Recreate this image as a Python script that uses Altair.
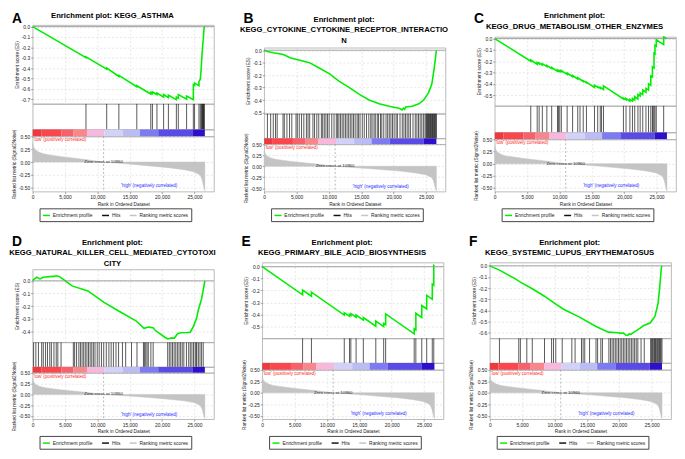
import altair as alt
import pandas as pd

FONT = "Liberation Sans"
W = 184
X_MAX = 28000
X_TICKS = [0, 5000, 10000, 15000, 20000, 25000]
METRIC_TICKS = [0.5, 0.25, 0.0, -0.25, -0.5]
METRIC_DOMAIN = [-0.575, 0.5]
ZERO_CROSS = 10960
SERIES = ["Enrichment profile", "Hits", "Ranking metric scores"]
SERIES_COLORS = ["#00ee00", "#111111", "#c4c4c4"]
LOW_LABEL = "'low' (positively correlated)"
HIGH_LABEL = "'high' (negatively correlated)"

# ranked list metric (shared by all panels)
metric_rank = [0, 100, 250, 500, 1000, 1700, 2700, 4200, 6150, 8100, 10960, 13500,
               16000, 18500, 21000, 23400, 24900, 25900, 26200, 26400, 26550, 26600]
metric_val = [0.36, 0.30, 0.27, 0.23, 0.19, 0.16, 0.14, 0.11, 0.08, 0.05, 0.0, -0.025,
              -0.05, -0.08, -0.11, -0.15, -0.19, -0.255, -0.35, -0.475, -0.54, -0.56]

# heat bar of the ranked list
bar_start = [0, 1330, 4440, 6320, 8390, 11100, 13900, 16580, 19400, 24670]
bar_end = [1330, 4440, 6320, 8390, 11100, 13900, 16580, 19400, 24670, 26600]
bar_color = ["#ec3a3e", "#fb474c", "#f8616c", "#f8878c", "#f8b8de",
             "#d2d2f8", "#bcbcf5", "#7d7bf1", "#5a4be7", "#2c10cc"]

# ---------- A ----------
A_title = "Enrichment plot: KEGG_ASTHMA"
A_es_rank = [0, 8240, 8240, 11440, 11440, 13320, 13320, 16090, 16090, 18250, 18250, 18500, 18500,
             19200, 19200, 20230, 20230, 20970, 20970, 22200, 22200, 22500, 22500, 23780, 23780,
             24820, 24820, 25010, 25010, 25690, 25690, 25890, 26040, 26130, 26230, 26380, 26480, 26600]
A_es_val = [0.0, -0.300, -0.292, -0.410, -0.400, -0.480, -0.470, -0.580, -0.570, -0.650, -0.635,
            -0.645, -0.630, -0.655, -0.640, -0.680, -0.655, -0.685, -0.660, -0.705, -0.680, -0.690,
            -0.655, -0.700, -0.670, -0.705, -0.560, -0.567, -0.545, -0.570, -0.530, -0.510, -0.400,
            -0.300, -0.210, -0.100, -0.010, 0.0]
A_hits = [8240, 11440, 13320, 16090, 18250, 18500, 19200, 20230, 20970, 22200, 22500, 23780,
          24820, 25010, 25690, 25890, 26040, 26130, 26230, 26300, 26380, 26450, 26520]
A_domain = [-0.745, 0.015]
A_ticks = [0.0, -0.1, -0.2, -0.3, -0.4, -0.5, -0.6, -0.7]

# ---------- B ----------
B_title = "Enrichment plot:\nKEGG_CYTOKINE_CYTOKINE_RECEPTOR_INTERACTIO\nN"
B_es_rank = [0, 500, 1400, 2960, 4000, 5500, 7000, 8570, 10100, 11600, 13160, 14700, 16200,
             17760, 19300, 20800, 21000, 21300, 21500, 21700, 21840, 22860, 23900, 24640,
             25400, 25900, 26300, 26600]
B_es_val = [0.0, -0.01, -0.02, -0.035, -0.06, -0.08, -0.10, -0.145, -0.19, -0.25, -0.30, -0.355,
            -0.40, -0.43, -0.45, -0.465, -0.47, -0.48, -0.465, -0.475, -0.455, -0.45, -0.43,
            -0.40, -0.34, -0.27, -0.13, 0.0]
B_hits = [502, 1004, 1405, 1757, 2008, 2911, 3112, 3513, 3915, 4266, 4919, 5119, 5420, 5772,
          6123, 6525, 6776, 7027, 7529, 7779, 8131, 8432, 8833, 9034, 9285, 9536, 9787, 10038,
          10440, 10791, 11142, 11343, 11544, 11795, 12046, 12297, 12548, 12798, 13049, 13300,
          13551, 13802, 14053, 14354, 14555, 14806, 15157, 15459, 15810, 16161, 16462, 16663,
          16964, 17165, 17466, 17667, 17968, 18169, 18470, 18821, 19072, 19323, 19574, 19825,
          20076, 20377, 20578, 20980, 21331, 21582, 21833, 22084, 22335, 22586, 22987, 23338,
          23589, 23840, 24091, 24342, 24593, 24844, 25000, 25100, 25200, 25300, 25400, 25500,
          25600, 25700, 25800, 25900, 26000, 26100, 26200, 26300, 26400, 26500, 26600]
B_domain = [-0.51, 0.02]
B_ticks = [0.0, -0.1, -0.2, -0.3, -0.4, -0.5]

# ---------- C ----------
C_title = "Enrichment plot:\nKEGG_DRUG_METABOLISM_OTHER_ENZYMES"
C_es_rank = [0, 5566, 5566, 6560, 6560, 6859, 6859, 7356, 7356, 8051, 8051, 8797, 8797, 9692,
             9692, 10039, 10039, 10288, 10288, 11183, 11183, 12027, 12027, 12823, 12823, 13668,
             13668, 14165, 14165, 15407, 15407, 15904, 15904, 16302, 16302, 16799, 16799, 19880,
             19880, 20278, 20278, 20874, 20874, 21272, 21272, 21620, 21620, 22117, 22117, 22464,
             22464, 22862, 22862, 23359, 23359, 23757, 23757, 24105, 24105, 24353, 24353, 24602,
             24602, 24751, 24751, 24950, 24950, 26093, 26093, 26600]
C_es_val = [0.0, -0.200, -0.190, -0.227, -0.212, -0.223, -0.215, -0.234, -0.222, -0.248, -0.238,
            -0.266, -0.256, -0.290, -0.278, -0.291, -0.283, -0.292, -0.282, -0.316, -0.305, -0.337,
            -0.327, -0.357, -0.347, -0.379, -0.372, -0.391, -0.385, -0.432, -0.412, -0.431, -0.425,
            -0.440, -0.432, -0.450, -0.418, -0.534, -0.527, -0.542, -0.530, -0.553, -0.538, -0.553,
            -0.530, -0.543, -0.515, -0.534, -0.495, -0.508, -0.480, -0.495, -0.455, -0.474, -0.440,
            -0.455, -0.400, -0.413, -0.330, -0.340, -0.250, -0.260, -0.130, -0.136, -0.060, -0.068,
            -0.010, -0.053, 0.014, 0.0]
C_hits = [5566, 6560, 6859, 7356, 8051, 8797, 9692, 9841, 10039, 10288, 11183, 12027, 12823,
          13171, 13668, 14165, 15407, 15904, 16302, 16500, 16799, 19880, 20278, 20874, 21272,
          21620, 22117, 22464, 22862, 23359, 23757, 24105, 24353, 24452, 24602, 24751, 24950, 26093]
C_domain = [-0.595, 0.015]
C_ticks = [0.0, -0.1, -0.2, -0.3, -0.4, -0.5]

# ---------- D ----------
D_title = "Enrichment plot:\nKEGG_NATURAL_KILLER_CELL_MEDIATED_CYTOTOXI\nCITY"
D_es_rank = [0, 150, 640, 1140, 1630, 2000, 2620, 3300, 3600, 4100, 4840, 6077, 8547, 11018,
             13488, 15958, 17200, 17935, 18600, 18923, 20400, 20900, 21500, 21900, 22400, 23000,
             23860, 24350, 24850, 25300, 25590, 26090, 26430, 26600]
D_es_val = [0.0, 0.01, 0.028, 0.015, 0.028, 0.03, 0.033, 0.035, 0.04, 0.035, 0.008, -0.04, -0.08,
            -0.17, -0.244, -0.315, -0.375, -0.365, -0.37, -0.39, -0.445, -0.458, -0.45, -0.453,
            -0.415, -0.41, -0.408, -0.405, -0.357, -0.30, -0.23, -0.143, -0.05, 0.0]
D_hits = [150, 499, 898, 1397, 1647, 1996, 2295, 2645, 2894, 3293, 3643, 3892, 4391, 6287, 6487,
          6786, 7136, 7385, 7635, 7884, 8134, 8383, 8633, 8882, 9132, 9381, 9631, 9980, 10279,
          10629, 10978, 11377, 11776, 12126, 12475, 12874, 13273, 13872, 14371, 15269, 16118,
          17116, 17265, 17465, 17665, 17864, 18264, 18613, 20858, 21108, 21357, 21607, 21856,
          22106, 22355, 22605, 22855, 23104, 23354, 23753, 24102, 24351, 24601, 24850, 25100,
          25249, 25349, 25599, 25848, 26098, 26347]
D_domain = [-0.485, 0.09]
D_ticks = [0.0, -0.1, -0.2, -0.3, -0.4]

# ---------- E ----------
E_title = "Enrichment plot:\nKEGG_PRIMARY_BILE_ACID_BIOSYNTHESIS"
E_es_rank = [0, 6237, 6237, 7606, 7606, 12677, 12677, 13489, 13489, 13692, 13692, 14503, 14503,
             15619, 15619, 17546, 17546, 18763, 18763, 19067, 19067, 23479, 23479, 23732, 23732,
             24645, 24645, 25406, 25406, 26268, 26268, 26500, 26500, 26600]
E_es_val = [0.0, -0.235, -0.195, -0.247, -0.213, -0.405, -0.385, -0.415, -0.400, -0.408, -0.393,
            -0.423, -0.405, -0.447, -0.425, -0.498, -0.455, -0.501, -0.475, -0.486, -0.395, -0.562,
            -0.520, -0.530, -0.390, -0.425, -0.325, -0.354, -0.240, -0.273, -0.145, -0.154, 0.010,
            0.005]
E_hits = [6237, 7606, 12677, 13489, 13692, 14503, 15619, 17546, 18763, 19067, 23479, 23732,
          24645, 25406, 26268, 26500]
E_domain = [-0.60, 0.035]
E_ticks = [0.0, -0.1, -0.2, -0.3, -0.4, -0.5]

# ---------- F ----------
F_title = "Enrichment plot:\nKEGG_SYSTEMIC_LUPUS_ERYTHEMATOSUS"
F_es_rank = [0, 1491, 3960, 4722, 6560, 8449, 10189, 11390, 13860, 16340, 18316, 19800, 20300,
             20600, 21000, 21290, 21500, 21780, 22100, 22520, 23270, 23760, 24750, 25500, 25990,
             26240, 26490, 26600]
F_es_val = [0.0, -0.038, -0.117, -0.146, -0.205, -0.272, -0.342, -0.389, -0.459, -0.541, -0.594,
            -0.599, -0.605, -0.600, -0.620, -0.623, -0.610, -0.615, -0.600, -0.585, -0.556, -0.535,
            -0.512, -0.453, -0.336, -0.190, -0.020, 0.0]
F_hits = [1491, 4473, 4722, 5716, 6560, 8449, 9542, 9841, 10189, 11183, 12674, 13171, 14165,
          14413, 14662, 15407, 16401, 16650, 17147, 17395, 18389, 18638, 18886, 19135, 19384,
          19632, 19881, 20130, 20378, 20627, 20876, 21125, 21373, 21622, 21870, 22119, 22368,
          22616, 22865, 23362, 23856, 24850, 24950, 25099, 25200, 25349, 25450, 25598, 25700,
          25847, 25950, 26096, 26200, 26345, 26450, 26594]
F_domain = [-0.65, 0.03]
F_ticks = [0.0, -0.1, -0.2, -0.3, -0.4, -0.5, -0.6]


def panel(letter, title, title_y, es_rank, es_val, hits, es_domain, es_ticks, sizes):
    h_head, h_es, h_hits, h_bar, h_met = sizes
    total = sum(sizes)
    xs = alt.Scale(domain=[0, X_MAX], nice=False, zero=False)
    ss = alt.Scale(domain=SERIES, range=SERIES_COLORS)

    head_df = pd.DataFrame({"letter": [letter], "title": [title]})
    head = alt.layer(
        alt.Chart(head_df).mark_text(font=FONT, fontSize=14, fontWeight="bold", align="left",
                                     baseline="top", color="black").encode(
            text="letter:N", x=alt.value(-21), y=alt.value(0)),
        alt.Chart(head_df).mark_text(font=FONT, fontSize=7.8, fontWeight="bold", align="center",
                                     baseline="top", lineBreak="\n", lineHeight=10.7,
                                     color="black").encode(
            text="title:N", x=alt.value(W / 2 - 11), y=alt.value(title_y)),
    ).properties(width=W, height=h_head, view=alt.ViewBackground(stroke="transparent"))

    es_df = pd.DataFrame({"rank": es_rank, "es": es_val, "series": SERIES[0]})
    ys = alt.Scale(domain=es_domain, nice=False, zero=False)
    es_line = alt.Chart(es_df).mark_line(strokeWidth=1.6).encode(
        x=alt.X("rank:Q", scale=xs,
                axis=alt.Axis(values=X_TICKS, tickCount=20, labels=False, ticks=False,
                              domain=False, title=None, grid=True)),
        y=alt.Y("es:Q", scale=ys,
                axis=alt.Axis(values=es_ticks, tickCount=20, format=".1f",
                              title="Enrichment score (ES)", grid=True, labelOverlap=False)),
        stroke=alt.Stroke("series:N", scale=ss),
    )
    es_zero = alt.Chart(pd.DataFrame({"v": [0]})).mark_rule(
        color="#8a8a8a", strokeWidth=0.8).encode(y=alt.datum(0))
    es = alt.layer(es_line, es_zero).properties(width=W, height=h_es)

    hits_df = pd.DataFrame({"rank": hits, "series": SERIES[1]})
    hit_chart = alt.Chart(hits_df).mark_rule(strokeWidth=0.7).encode(
        x=alt.X("rank:Q", scale=xs, axis=None),
        stroke=alt.Stroke("series:N", scale=ss),
    ).properties(width=W, height=h_hits)

    bar_df = pd.DataFrame({"start": bar_start, "end": bar_end, "col": bar_color})
    bar = alt.Chart(bar_df).mark_rect().encode(
        x=alt.X("start:Q", scale=xs, axis=None), x2="end:Q",
        color=alt.Color("col:N", scale=None),
    ).properties(width=W, height=h_bar)

    met_df = pd.DataFrame({"rank": metric_rank, "m": metric_val, "series": SERIES[2]})
    ms = alt.Scale(domain=METRIC_DOMAIN, nice=False, zero=False)
    area = alt.Chart(met_df).mark_area(fill="#c4c4c4", strokeWidth=0.5).encode(
        x=alt.X("rank:Q", scale=xs,
                axis=alt.Axis(values=X_TICKS, tickCount=20, format=",d",
                              title="Rank in Ordered Dataset", labelFlush=False, grid=True,
                              labelOverlap=False)),
        y=alt.Y("m:Q", scale=ms,
                axis=alt.Axis(values=METRIC_TICKS, tickCount=20, format=".2f",
                              title="Ranked list metric (Signal2Noise)", grid=True,
                              labelOverlap=False)),
        y2=alt.datum(0),
        stroke=alt.Stroke("series:N", scale=ss,
                          legend=alt.Legend(orient="none", legendX=7, legendY=total + 17,
                                            direction="horizontal", symbolType="stroke",
                                            title=None)),
    )
    zc_df = pd.DataFrame({"t": [f"Zero cross at {ZERO_CROSS}"]})
    zc_rule = alt.Chart(zc_df).mark_rule(color="#9a9a9a", strokeDash=[2, 2],
                                         strokeWidth=0.7).encode(x=alt.datum(ZERO_CROSS))
    zc_text = alt.Chart(zc_df).mark_text(font=FONT, fontSize=4.4, color="#222",
                                         baseline="middle").encode(
        x=alt.datum(ZERO_CROSS), y=alt.datum(0), text="t:N")
    low = alt.Chart(pd.DataFrame({"t": [LOW_LABEL]})).mark_text(
        font=FONT, fontSize=4.6, color="#ff2a2a", align="left", baseline="top").encode(
        x=alt.datum(150), y=alt.datum(0.48), text="t:N")
    high = alt.Chart(pd.DataFrame({"t": [HIGH_LABEL]})).mark_text(
        font=FONT, fontSize=4.6, color="#2a2aff", align="center", baseline="middle").encode(
        x=alt.datum(18000), y=alt.datum(-0.47), text="t:N")
    metric = alt.layer(area, zc_rule, zc_text, low, high).properties(width=W, height=h_met)

    return alt.vconcat(head, es, hit_chart, bar, metric, spacing=0, bounds="flush")


pA = panel("A", A_title, 0, A_es_rank, A_es_val, A_hits, A_domain, A_ticks, [13, 80, 26, 7, 56])
pB = panel("B", B_title, 3.5, B_es_rank, B_es_val, B_hits, B_domain, B_ticks, [36, 67, 25, 6, 48])
pC = panel("C", C_title, 0, C_es_rank, C_es_val, C_hits, C_domain, C_ticks, [25, 70, 27, 7, 53])
pD = panel("D", D_title, 4, D_es_rank, D_es_val, D_hits, D_domain, D_ticks, [35, 74, 25, 6, 47])
pE = panel("E", E_title, 4, E_es_rank, E_es_val, E_hits, E_domain, E_ticks, [28, 77, 25, 7, 50])
pF = panel("F", F_title, 4, F_es_rank, F_es_val, F_hits, F_domain, F_ticks, [28, 77, 25, 7, 50])

row1 = alt.hconcat(pA, pB, pC, spacing=24).resolve_scale(stroke="independent").resolve_legend(stroke="independent")
row2 = alt.hconcat(pD, pE, pF, spacing=24).resolve_scale(stroke="independent").resolve_legend(stroke="independent")

chart = alt.vconcat(row1, row2, spacing=12, padding=0).resolve_scale(
    stroke="independent").resolve_legend(stroke="independent").configure(
    font=FONT, background="white",
    locale={"number": {"decimal": ".", "thousands": ",", "grouping": [3],
                       "currency": ["$", ""], "minus": "-"}},
).configure_view(stroke="#a8a8a8", strokeWidth=0.8).configure_axis(
    labelFont=FONT, labelFontSize=5, labelColor="#222", titleFont=FONT, titleFontSize=4.8,
    titleFontWeight="normal", titleColor="#222", tickSize=2, tickColor="#666", tickWidth=0.6,
    labelPadding=1, titlePadding=2, domain=False, gridColor="#d6d6d6", gridDash=[2, 2],
    gridWidth=0.6, labelOverlap=False,
).configure_legend(
    labelFont=FONT, labelFontSize=5, labelColor="#222", symbolStrokeWidth=1.5, symbolSize=50,
    strokeColor="#444", padding=2.5, columnPadding=5, labelOffset=2, cornerRadius=0,
    fillColor="white",
)

chart.save("out.html", embed_options={"renderer": "svg", "actions": False})
